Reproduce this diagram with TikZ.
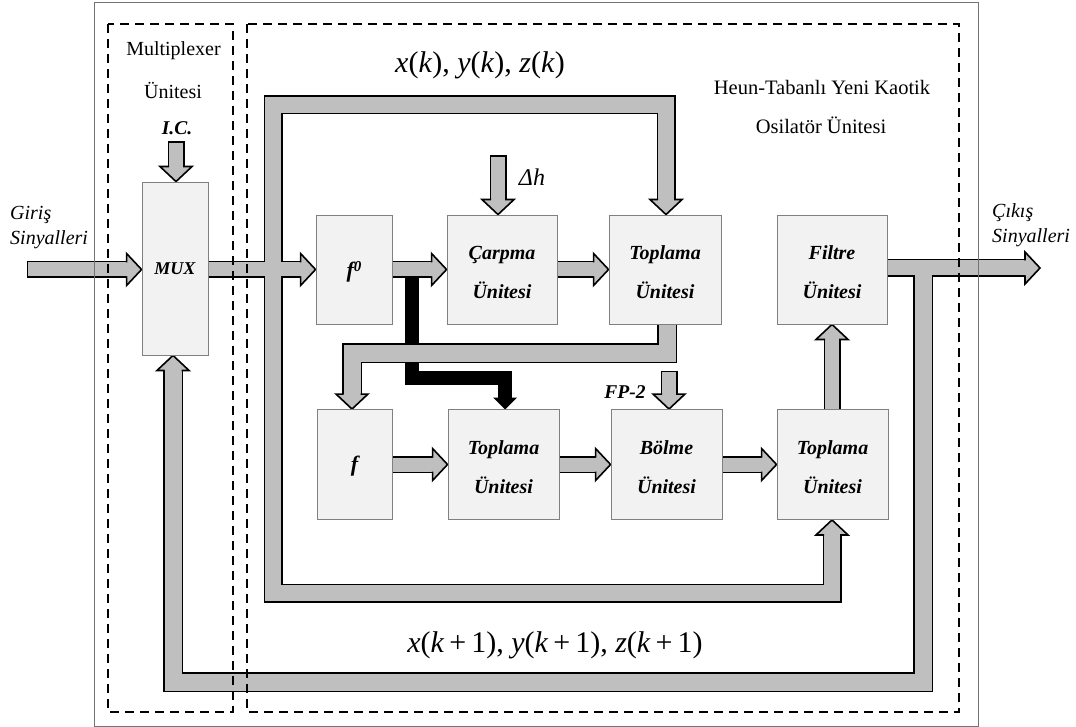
\documentclass[tikz,border=0pt]{standalone}
\usepackage{fontspec}
\setmainfont{Liberation Serif}
\usetikzlibrary{backgrounds}
\definecolor{barfill}{gray}{0.75}
\definecolor{boxfill}{gray}{0.95}
\definecolor{boxline}{gray}{0.5}
\definecolor{frameline}{gray}{0.45}
\begin{document}
\begin{tikzpicture}[x=1pt,y=-1pt,
  box/.style={draw=boxline, line width=0.9pt, fill=boxfill, inner sep=0pt,
    font=\fontsize{20}{39}\selectfont\bfseries\itshape, align=center},
  und/.style={draw=black, line width=#1, line join=miter},
  shaft/.style={draw=barfill, line width=#1, line join=miter},
  outl/.style={draw=black, line width=1.6pt, line join=miter},
  pics/head/.style={code={
      \fill[barfill] (0,0) -- (-15,16) -- (-15,-16) -- cycle;
      \draw[outl] (-15,#1) -- (-15,16) -- (0,0) -- (-15,-16) -- (-15,-#1);}},
  pics/blackhead/.style={code={\fill[black] (0,0) -- (-12,12) -- (-12,-12) -- cycle;}},
  region/.style={draw=black, line width=2pt, dash pattern=on 9pt off 6pt},
  lbl/.style={font=\fontsize{20}{25}\selectfont, inner sep=0pt},
  boldlbl/.style={font=\fontsize{19.5}{24}\selectfont\bfseries\itshape, inner sep=0pt},
  itlbl/.style={font=\fontsize{20}{25}\selectfont\itshape, inner sep=0pt, anchor=west},
  eqlbl/.style={font=\fontsize{30}{36}\selectfont, inner sep=0pt},
  fn/.style={font=\fontsize{22}{26}\selectfont\bfseries\itshape, inner sep=0pt},
]
\useasboundingbox (0,0) rectangle (1076,727);

% ---- processing blocks ----
\node[box, minimum width=66pt, minimum height=173pt, font=\fontsize{18}{22}\selectfont\bfseries\itshape] (mux) at (175,268.5) {MUX};
\node[box, minimum width=76pt, minimum height=109pt] (f0) at (354,269.5) {};
\node[box, minimum width=110pt, minimum height=109pt] (carp) at (502,269.5) {};
\node[box, minimum width=112pt, minimum height=109pt] (topA) at (665,269.5) {};
\node[box, minimum width=110pt, minimum height=109pt] (filt) at (832,269.5) {};
\node[box, minimum width=75pt, minimum height=110pt] (f) at (354.5,464.5) {};
\node[box, minimum width=111pt, minimum height=110pt] (topB) at (503.5,464.5) {};
\node[box, minimum width=111pt, minimum height=110pt] (bol) at (666.5,464.5) {};
\node[box, minimum width=111pt, minimum height=110pt] (topC) at (832.5,464.5) {};

% block captions, two lines each
\node[fn] (f0t) at ([yshift=-2pt]f0.center) {f\raisebox{6pt}{\fontsize{15}{15}\selectfont 0}};
\node[fn] (ft) at ([yshift=-2pt]f.center) {f};
\node[box, draw=none, fill=none] (carpt) at ([yshift=-3pt]carp.center) {Çarpma\\Ünitesi};
\node[box, draw=none, fill=none] (topAt) at ([yshift=-3pt]topA.center) {Toplama\\Ünitesi};
\node[box, draw=none, fill=none] (filtt) at ([yshift=-3pt]filt.center) {Filtre\\Ünitesi};
\node[box, draw=none, fill=none] (topBt) at ([yshift=-3pt]topB.center) {Toplama\\Ünitesi};
\node[box, draw=none, fill=none] (bolt) at ([yshift=-3pt]bol.center) {Bölme\\Ünitesi};
\node[box, draw=none, fill=none] (topCt) at ([yshift=-3pt]topC.center) {Toplama\\Ünitesi};

\begin{scope}[on background layer]
  % black branch carrying f0 to the lower adder
  \draw[line width=14pt, line join=miter] (412,271) -- (412,378) -- (505,378) -- (505,399);
  \pic[rotate=-90] at (505,409.5) {blackhead};

  % black outlines of all wide buses
  \draw[und=17pt] (26.5,269.5) -- (127,269.5);
  \draw[und=17pt] (mux.east |- 0,269.5) -- (301,269.5);
  \draw[und=17pt] (f0.east) -- (432,269.5);
  \draw[und=17pt] (carp.east) -- (594,269.5);
  \draw[und=17pt] (f.east) -- (433,464.5);
  \draw[und=17pt] (topB.east) -- (596,464.5);
  \draw[und=17pt] (bol.east) -- (762,464.5);
  \draw[und=17pt] (832,409.5) -- (832,339);
  \draw[und=17pt] (498,155.5) -- (498,200);
  \draw[und=17pt] (669,370.5) -- (669,395);
  \draw[und=17pt] (176,141.5) -- (176,167);
  \draw[und=18pt] (filt.east |- 0,268) -- (1025,268);
  \draw[und=19pt] (666,200) -- (666,105) -- (273,105) -- (273,593) -- (832,593) -- (832,535);
  \draw[und=20pt] (923,268) -- (923,682) -- (173,682) -- (173,370);
  \draw[und=20pt] (667,324) -- (667,353) -- (352,353) -- (352,394);

  % grey bus bodies
  \draw[shaft=14pt] (28,269.5) -- (128,269.5);
  \draw[shaft=14pt] (mux.east |- 0,269.5) -- (302,269.5);
  \draw[shaft=14pt] (f0.east) -- (433,269.5);
  \draw[shaft=14pt] (carp.east) -- (595,269.5);
  \draw[shaft=14pt] (f.east) -- (434,464.5);
  \draw[shaft=14pt] (topB.east) -- (597,464.5);
  \draw[shaft=14pt] (bol.east) -- (763,464.5);
  \draw[shaft=14pt] (832,409.5) -- (832,338);
  \draw[shaft=14pt] (498,157) -- (498,201);
  \draw[shaft=14pt] (669,372) -- (669,396);
  \draw[shaft=14pt] (176,143) -- (176,168);
  \draw[shaft=15pt] (filt.east |- 0,268) -- (1026,268);
  \draw[shaft=16pt] (666,201) -- (666,105) -- (273,105) -- (273,593) -- (832,593) -- (832,534);
  \draw[shaft=17pt] (923,268) -- (923,682) -- (173,682) -- (173,369);
  \draw[shaft=17pt] (667,324) -- (667,353) -- (352,353) -- (352,395);

  % arrow heads
  \pic at (mux.west |- 0,269.5) {head=7};
  \pic at (f0.west) {head=7};
  \pic at (carp.west) {head=7};
  \pic at (topA.west) {head=7};
  \pic at (topB.west) {head=7};
  \pic at (bol.west) {head=7};
  \pic at (topC.west) {head=7};
  \pic[rotate=90] at (filt.south) {head=7};
  \pic[rotate=-90] at (carp.north -| 498,0) {head=7};
  \pic[rotate=-90] at (bol.north -| 669,0) {head=7};
  \pic[rotate=-90] at (mux.north -| 176,0) {head=7};
  \pic at (1040,268) {head=7.5};
  \pic[rotate=-90] at (topA.north -| 666,0) {head=8};
  \pic[rotate=90] at (topC.south -| 832,0) {head=8};
  \pic[rotate=90] at (mux.south -| 173,0) {head=8.5};
  \pic[rotate=-90] at (f.north -| 352,0) {head=8.5};
\end{scope}

% ---- unit frames ----
\draw[frameline, line width=1pt] (94,3) rectangle (978,726);
\draw[region] (108,24) rectangle (233,712);
\draw[region] (247,24) rectangle (959,712);

% ---- labels ----
\node[lbl] (mxa) at (173.5,51) {Multiplexer};
\node[lbl] (mxb) at (173,90) {Ünitesi};
\node[boldlbl] (ic) at (177,128) {I.C.};
\node[itlbl] (gin1) at (10,215) {Giriş};
\node[itlbl] (gin2) at (10,240) {Sinyalleri};
\node[itlbl] (cik1) at (992,213) {Çıkış};
\node[itlbl] (cik2) at (992,238) {Sinyalleri};
\node[lbl, font=\fontsize{20.5}{25}\selectfont] (hn1) at (822,87) {Heun-Tabanlı Yeni Kaotik};
\node[lbl, font=\fontsize{20.5}{25}\selectfont] (hn2) at (821,125) {Osilatör Ünitesi};
\node[eqlbl] (xk) at (480,65) {\textit{x}(\textit{k}), \textit{y}(\textit{k}), \textit{z}(\textit{k})};
\node[eqlbl] (xk1) at (555,645) {\textit{x}(\textit{k}\,+\,1), \textit{y}(\textit{k}\,+\,1), \textit{z}(\textit{k}\,+\,1)};
\node[lbl, font=\fontsize{24}{28}\selectfont\itshape] (dh) at (532,177) {Δh};
\node[boldlbl] (fp) at (625,392) {FP-2};
\end{tikzpicture}
\end{document}
